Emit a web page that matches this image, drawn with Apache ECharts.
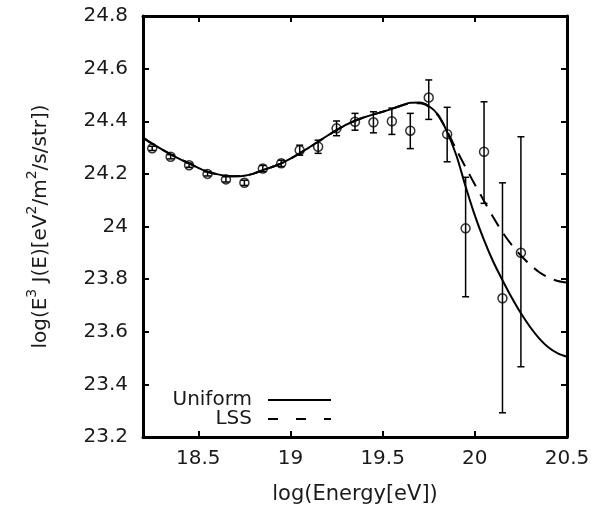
<!DOCTYPE html>
<html>
<head>
<meta charset="utf-8">
<script src="https://cdn.jsdelivr.net/npm/echarts@6/dist/echarts.min.js"></script>
<style>
  html, body { margin: 0; padding: 0; background: #fff; }
  #chart { width: 603px; height: 510px; }
</style>
</head>
<body>
<div id="chart"></div>
<script>
// Measured spectrum: log10 energy, log10(E^3 J), lower and upper error bounds
const energy = [18.25, 18.35, 18.45, 18.55, 18.65, 18.75, 18.85, 18.95, 19.05, 19.15, 19.25,
                19.35, 19.45, 19.55, 19.65, 19.75, 19.85, 19.95, 20.05, 20.15, 20.25];
const flux   = [24.297, 24.265, 24.233, 24.200, 24.179, 24.166, 24.220, 24.240, 24.290, 24.303, 24.373,
                24.398, 24.396, 24.400, 24.364, 24.490, 24.351, 23.993, 24.284, 23.727, 23.900];
const fluxLow  = [24.289, 24.257, 24.225, 24.192, 24.169, 24.156, 24.208, 24.228, 24.271, 24.278, 24.345,
                  24.366, 24.356, 24.350, 24.296, 24.407, 24.246, 23.733, 24.088, 23.292, 23.467];
const fluxHigh = [24.305, 24.273, 24.241, 24.208, 24.189, 24.176, 24.232, 24.252, 24.309, 24.328, 24.401,
                  24.430, 24.436, 24.450, 24.430, 24.557, 24.453, 24.187, 24.474, 24.166, 24.341];

// Model curves sampled on a 0.05 grid in log energy
const modelEnergy = [18.20, 18.25, 18.30, 18.35, 18.40, 18.45, 18.50, 18.55, 18.60, 18.65, 18.70,
                     18.75, 18.80, 18.85, 18.90, 18.95, 19.00, 19.05, 19.10, 19.15, 19.20, 19.25,
                     19.30, 19.35, 19.40, 19.45, 19.50, 19.55, 19.60, 19.65, 19.70, 19.75, 19.80,
                     19.85, 19.90, 19.95, 20.00, 20.05, 20.10, 20.15, 20.20, 20.25, 20.30, 20.35,
                     20.40, 20.45, 20.50];
const uniformModel = [24.338, 24.315, 24.294, 24.274, 24.256, 24.240, 24.223, 24.208, 24.199, 24.193, 24.191,
                      24.193, 24.201, 24.214, 24.226, 24.240, 24.258, 24.278, 24.300, 24.322, 24.345, 24.366,
                      24.386, 24.402, 24.415, 24.426, 24.436, 24.447, 24.460, 24.470, 24.471, 24.458, 24.425,
                      24.359, 24.270, 24.152, 24.042, 23.948, 23.866, 23.796, 23.730, 23.670, 23.618, 23.574,
                      23.540, 23.518, 23.505];
const lssModel     = [24.338, 24.315, 24.294, 24.274, 24.256, 24.240, 24.223, 24.208, 24.199, 24.193, 24.191,
                      24.193, 24.201, 24.214, 24.226, 24.240, 24.258, 24.278, 24.300, 24.322, 24.345, 24.366,
                      24.386, 24.402, 24.415, 24.426, 24.436, 24.447, 24.459, 24.468, 24.468, 24.455, 24.422,
                      24.362, 24.292, 24.225, 24.160, 24.097, 24.035, 23.978, 23.930, 23.890, 23.855, 23.826,
                      23.806, 23.793, 23.787];

// Axis ticks and their labels
const xTicks = [18.5, 19, 19.5, 20, 20.5];
const xTickLabels = ['18.5', '19', '19.5', '20', '20.5'];
const yTicks = [23.2, 23.4, 23.6, 23.8, 24.0, 24.2, 24.4, 24.6, 24.8];
const yTickLabels = ['23.2', '23.4', '23.6', '23.8', '24', '24.2', '24.4', '24.6', '24.8'];

const FONT = 'DejaVu Sans';
const INK = '#1a1a1a';

const pair = (xs, ys) => xs.map((x, i) => [x, ys[i]]);
const labelFor = (ticks, labels) => (v) => {
  const i = ticks.findIndex(t => Math.abs(t - v) < 1e-6);
  return i >= 0 ? labels[i] : '';
};

const axisLine = { show: true, onZero: false, lineStyle: { color: '#000', width: 3 } };
const tickStyle = { lineStyle: { color: '#000', width: 2 } };

const chart = echarts.init(document.getElementById('chart'), null, { renderer: 'canvas' });

const legendBase = {
  orient: 'vertical', align: 'right', right: 266,
  itemWidth: 63, itemHeight: 14, selectedMode: false,
  itemStyle: { color: 'rgba(0,0,0,0)', borderWidth: 0, opacity: 0 },
  textStyle: { fontFamily: FONT, fontSize: 20, color: INK, padding: [0, 11, 0, 0] }
};

chart.setOption({
  animation: false,
  backgroundColor: '#fff',
  grid: { left: 143, right: 36, top: 16, bottom: 73, containLabel: false },
  xAxis: [
    {
      type: 'value', min: 18.2, max: 20.5, position: 'bottom',
      axisLine: axisLine,
      axisTick: Object.assign({ show: true, inside: true, length: 6, customValues: xTicks }, tickStyle),
      axisLabel: {
        show: true, customValues: xTicks, formatter: labelFor(xTicks, xTickLabels),
        fontFamily: FONT, fontSize: 20, color: INK, margin: 12
      },
      splitLine: { show: false },
      name: 'log(Energy[eV])', nameLocation: 'middle', nameGap: 47,
      nameTextStyle: { fontFamily: FONT, fontSize: 21, color: INK }
    },
    {
      type: 'value', min: 18.2, max: 20.5, position: 'top',
      axisLine: axisLine,
      axisTick: Object.assign({ show: true, inside: true, length: 6, customValues: xTicks }, tickStyle),
      axisLabel: { show: false },
      splitLine: { show: false }
    }
  ],
  yAxis: [
    {
      type: 'value', min: 23.2, max: 24.8, position: 'left',
      axisLine: axisLine,
      axisTick: Object.assign({ show: true, inside: true, length: 6, customValues: yTicks }, tickStyle),
      axisLabel: {
        show: true, customValues: yTicks, formatter: labelFor(yTicks, yTickLabels),
        fontFamily: FONT, fontSize: 20, color: INK, margin: 15
      },
      splitLine: { show: false },
      name: '{a|log(E}{s|3}{a| J(E)[eV}{s|2}{a|/m}{s|2}{a|/s/str])}',
      nameLocation: 'middle', nameRotate: 90, nameGap: 92,
      nameTextStyle: {
        color: INK,
        rich: {
          a: { fontFamily: FONT, fontSize: 20, color: INK, lineHeight: 26, verticalAlign: 'bottom' },
          s: { fontFamily: FONT, fontSize: 14, color: INK, lineHeight: 26, verticalAlign: 'top' }
        }
      }
    },
    {
      type: 'value', min: 23.2, max: 24.8, position: 'right',
      axisLine: axisLine,
      axisTick: Object.assign({ show: true, inside: true, length: 6, customValues: yTicks }, tickStyle),
      axisLabel: { show: false },
      splitLine: { show: false }
    }
  ],
  legend: [
    Object.assign({}, legendBase, { top: 385, data: ['Uniform'] }),
    Object.assign({}, legendBase, { top: 404, data: [{ name: 'LSS', lineStyle: { type: [10, 18] } }] })
  ],
  series: [
    {
      name: 'Uniform', type: 'line', data: pair(modelEnergy, uniformModel),
      smooth: 0.3, symbol: 'none', clip: true,
      lineStyle: { color: '#000', width: 2, type: 'solid' },
      itemStyle: { color: '#000' }, z: 3
    },
    {
      name: 'LSS', type: 'line', data: pair(modelEnergy, lssModel),
      smooth: 0.3, symbol: 'none', clip: true,
      lineStyle: { color: '#000', width: 2, type: [14, 9] },
      itemStyle: { color: '#000' }, z: 3
    },
    {
      name: 'errors', type: 'custom',
      data: energy.map((x, i) => [x, flux[i], fluxLow[i], fluxHigh[i]]),
      renderItem: (params, api) => {
        const x = api.value(0);
        const top = api.coord([x, api.value(3)]);
        const bot = api.coord([x, api.value(2)]);
        const cap = 3.5;
        const style = { stroke: '#000', lineWidth: 1.5 };
        return {
          type: 'group',
          children: [
            { type: 'line', shape: { x1: top[0], y1: top[1], x2: bot[0], y2: bot[1] }, style },
            { type: 'line', shape: { x1: top[0] - cap, y1: top[1], x2: top[0] + cap, y2: top[1] }, style },
            { type: 'line', shape: { x1: bot[0] - cap, y1: bot[1], x2: bot[0] + cap, y2: bot[1] }, style }
          ]
        };
      },
      z: 4
    },
    {
      name: 'data', type: 'scatter', data: pair(energy, flux),
      symbol: 'circle', symbolSize: 9,
      itemStyle: { color: 'rgba(0,0,0,0)', borderColor: '#000', borderWidth: 1.5 },
      z: 5
    }
  ]
});
</script>
</body>
</html>
